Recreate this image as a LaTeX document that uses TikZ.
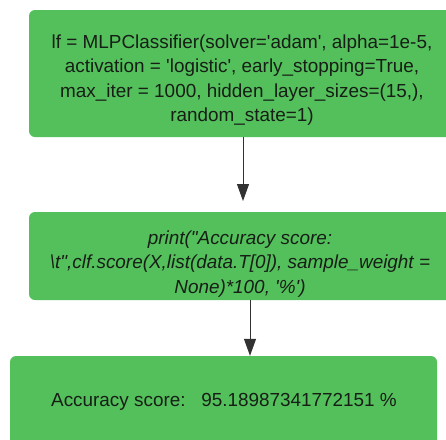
\documentclass[tikz,border=0pt]{standalone}
\usepackage{fontspec}
\setmainfont{Liberation Sans}[Ligatures=TeXOff]
\usetikzlibrary{arrows.meta}
\definecolor{boxgreen}{RGB}{84,192,92}
\definecolor{txt}{RGB}{22,30,22}
\definecolor{arr}{RGB}{50,50,50}
\begin{document}
\begin{tikzpicture}[x=1pt,y=1pt,
  greenbox/.style={fill=boxgreen,draw=none,rounded corners=6pt,inner sep=0pt},
  boxtext/.style={text=txt,align=center,inner sep=0pt},
  conn/.style={draw=arr,line width=1pt,-{Triangle[width=12pt,length=17pt]}}]
\fill[white] (0,0) rectangle (446,-439);
\useasboundingbox (0,0) rectangle (446,-439);
\clip (0,0) rectangle (446,-439);
\node[greenbox,minimum width=431pt,minimum height=127pt] (b1) at (244.5,-73.5) {};
\node[greenbox,minimum width=431pt,minimum height=88pt] (b2) at (244.5,-256) {};
\node[greenbox,minimum width=427pt,minimum height=100pt] (b3) at (223.5,-406) {};
\node[boxtext,font=\fontsize{18.9}{24.5}\selectfont] (t1) at (242,-80) {lf = MLPClassifier(solver='adam', alpha=1e-5,\\activation = 'logistic', early\_stopping=True,\\max\_iter = 1000, hidden\_layer\_sizes=(15,),\\random\_state=1)};
\node[boxtext,font=\fontsize{18.9}{24.5}\itshape] (t2) at (240,-264) {print("Accuracy score:\\\textbackslash t",clf.score(X,list(data.T[0]), sample\_weight =\\None)*100, '\%')};
\node[boxtext,font=\fontsize{18.9}{24.5}\selectfont] (t3) at (224,-402) {Accuracy score:\ \ \ 95.18987341772151 \%};
\coordinate (a1e) at (243,-201);
\coordinate (a2x) at (250,0);
\draw[conn] (b1.south -| a1e) -- (a1e);
\draw[conn] (b2.south -| a2x) -- (b3.north -| a2x);
\end{tikzpicture}
\end{document}
